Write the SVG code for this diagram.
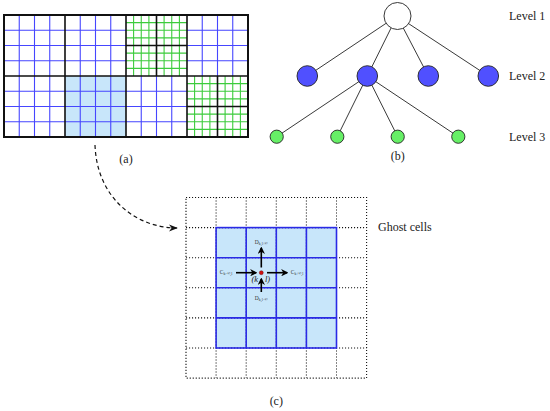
<svg xmlns="http://www.w3.org/2000/svg" width="550" height="411" viewBox="0 0 550 411">
<style>
text{font-family:"Liberation Serif","DejaVu Serif",serif;fill:#222}
.lbl{font-size:12px}
.sm{font-size:5.5px;fill:#333}
.bl{stroke:#4646ff;stroke-width:1.1;fill:none}
.gr{stroke:#3ccc3c;stroke-width:1.1;fill:none}
.blk{stroke:#111;stroke-width:1.6;fill:none}
.edge{stroke:#222;stroke-width:0.9;fill:none}
.dot{stroke:#111;stroke-width:1.1;stroke-dasharray:1.1 1.9;fill:none}
.cb{stroke:#2a2ae6;stroke-width:1.6;fill:none}
.arr{stroke:#000;stroke-width:1.6;fill:none;marker-end:url(#ah)}
</style>
<defs>
<marker id="ah" viewBox="0 0 10 10" refX="8" refY="5" markerWidth="4.6" markerHeight="4.6" orient="auto" markerUnits="strokeWidth"><path d="M0,0 L10,5 L0,10 L3,5 z" fill="#000"/></marker>
<marker id="ahd" viewBox="0 0 10 10" refX="9" refY="5" markerWidth="9" markerHeight="9" orient="auto" markerUnits="userSpaceOnUse"><path d="M0,1 L10,5 L0,9 L3,5 z" fill="#111"/></marker>
</defs>
<rect width="550" height="411" fill="#fff"/>

<g id="panel-a">
<rect x="65" y="76" width="61" height="61" fill="#c8e6fa"/>
<g class="bl">
<path d="M19.25,15V137M34.5,15V137M49.75,15V137M80.25,15V137M95.5,15V137M110.75,15V137M141.25,76V137M156.5,76V137M171.75,76V137M202.25,15V76M217.5,15V76M232.75,15V76"/>
<path d="M4,30.25H126M4,45.5H126M4,60.75H126M187,30.25H248M187,45.5H248M187,60.75H248M4,91.25H187M4,106.5H187M4,121.75H187"/>
</g>
<g class="gr">
<path d="M133.6,15V76M141.25,15V76M148.9,15V76M164.1,15V76M171.75,15V76M179.4,15V76M126,22.6H187M126,30.25H187M126,37.9H187M126,53.1H187M126,60.75H187M126,68.4H187"/>
<path d="M194.6,76V137M202.25,76V137M209.9,76V137M225.1,76V137M232.75,76V137M240.4,76V137M187,83.6H248M187,91.25H248M187,98.9H248M187,114.1H248M187,121.75H248M187,129.4H248"/>
</g>
<g class="blk">
<path d="M65,15V137M126,15V137M187,15V137M4,76H248"/>
<path d="M156.5,15V76M126,45.5H187M217.5,76V137M187,106.5H248"/>
<rect x="4" y="15" width="244" height="122" stroke-width="2"/>
</g>
<text class="lbl" x="126" y="163" text-anchor="middle">(a)</text>
</g>

<g id="connectors">
<path class="edge" d="M397,16L307.3,76M397,16L367.3,76M397,16L428.3,76M397,16L488.3,76"/>
<path class="edge" d="M367.3,76L276.7,136.7M367.3,76L337.3,136.7M367.3,76L397.7,136.7M367.3,76L458.3,136.7"/>
<path d="M95,145C97,200 138,228 177,228" stroke="#111" stroke-width="1.2" stroke-dasharray="4 3" fill="none" marker-end="url(#ahd)"/>
</g>

<g id="node-root"><circle cx="397.5" cy="16" r="13.5" fill="#fff" stroke="#222" stroke-width="0.9"/></g>
<g id="node-l2-1"><circle cx="307.3" cy="76" r="10.3" fill="#5050ff" stroke="#222" stroke-width="0.9"/></g>
<g id="node-l2-2"><circle cx="367.3" cy="76" r="10.3" fill="#5050ff" stroke="#222" stroke-width="0.9"/></g>
<g id="node-l2-3"><circle cx="428.3" cy="76" r="10.3" fill="#5050ff" stroke="#222" stroke-width="0.9"/></g>
<g id="node-l2-4"><circle cx="488.3" cy="76" r="10.3" fill="#5050ff" stroke="#222" stroke-width="0.9"/></g>
<g id="node-l3-1"><circle cx="276.7" cy="136.7" r="6.6" fill="#66ef66" stroke="#222" stroke-width="0.9"/></g>
<g id="node-l3-2"><circle cx="337.3" cy="136.7" r="6.6" fill="#66ef66" stroke="#222" stroke-width="0.9"/></g>
<g id="node-l3-3"><circle cx="397.7" cy="136.7" r="6.6" fill="#66ef66" stroke="#222" stroke-width="0.9"/></g>
<g id="node-l3-4"><circle cx="458.3" cy="136.7" r="6.6" fill="#66ef66" stroke="#222" stroke-width="0.9"/></g>

<g id="panel-b-labels">
<text class="lbl" x="509" y="20">Level 1</text>
<text class="lbl" x="509" y="80">Level 2</text>
<text class="lbl" x="509" y="141">Level 3</text>
<text class="lbl" x="397.7" y="160" text-anchor="middle">(b)</text>
</g>

<g id="panel-c">
<rect x="216.1" y="227.6" width="120.4" height="120.4" fill="#c8e6fa"/>
<g class="dot">
<rect x="186" y="197.5" width="180.6" height="180.6"/>
<path d="M216.1,197.5V378.1M246.2,197.5V378.1M276.3,197.5V378.1M306.4,197.5V378.1M336.5,197.5V378.1"/>
<path d="M186,227.6H366.6M186,257.7H366.6M186,287.8H366.6M186,317.9H366.6M186,348H366.6"/>
</g>
<g class="cb">
<rect x="216.1" y="227.6" width="120.4" height="120.4"/>
<path d="M246.2,227.6V348M276.3,227.6V348M306.4,227.6V348M216.1,257.7H336.5M216.1,287.8H336.5M216.1,317.9H336.5"/>
</g>
<g id="flux-arrows">
<path class="arr" d="M236,272.7H256"/>
<path class="arr" d="M267,272.7H287"/>
<path class="arr" d="M261.3,267.5V248"/>
<path class="arr" d="M261.3,292V279"/>
</g>
<circle cx="261.3" cy="272.7" r="2" fill="#d01010" stroke="#600" stroke-width="0.4"/>
<text x="258" y="282" font-size="8.5" font-style="italic" text-anchor="end">(k</text>
<text x="265" y="282" font-size="8.5" font-style="italic">l)</text>
<text class="sm" x="226" y="274" text-anchor="middle">C<tspan font-size="3.8" dy="1">k−½,l</tspan></text>
<text class="sm" x="297" y="274" text-anchor="middle">C<tspan font-size="3.8" dy="1">k+½,l</tspan></text>
<text class="sm" x="261.3" y="244" text-anchor="middle">D<tspan font-size="3.8" dy="1">k,l+½</tspan></text>
<text class="sm" x="261.3" y="300" text-anchor="middle">D<tspan font-size="3.8" dy="1">k,l−½</tspan></text>
<text class="lbl" x="378" y="231">Ghost cells</text>
<text class="lbl" x="276.3" y="405" text-anchor="middle">(c)</text>
</g>
</svg>
